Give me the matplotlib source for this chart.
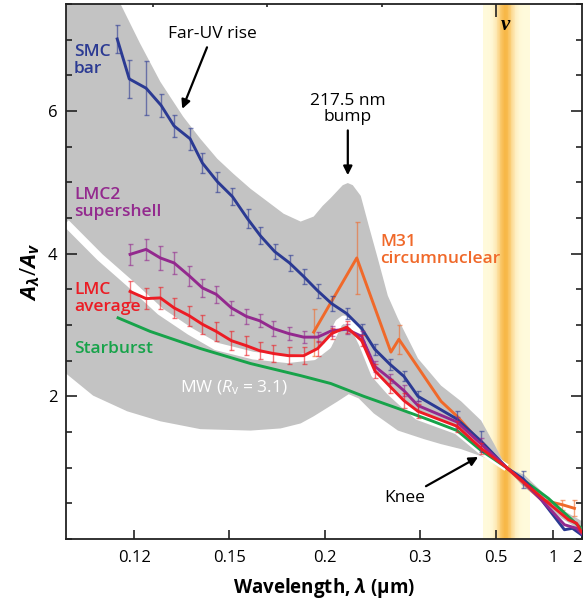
import numpy as np
import matplotlib.pyplot as plt
from matplotlib.colors import to_rgba
from matplotlib.ticker import FixedLocator, FixedFormatter, MultipleLocator, NullFormatter

plt.rcParams['font.family'] = ['Open Sans', 'DejaVu Sans']
plt.rcParams['mathtext.fontset'] = 'custom'
plt.rcParams['mathtext.rm'] = 'Open Sans'
plt.rcParams['mathtext.it'] = 'Open Sans:italic'
plt.rcParams['mathtext.bf'] = 'Open Sans:bold'
plt.rcParams['mathtext.bfit'] = 'Open Sans:italic:bold'

# extinction curves, A_lambda / A_V against wavelength (micron)
smc_wl = [0.1159, 0.1188, 0.1231, 0.1272, 0.1310, 0.1360, 0.1401, 0.1454, 0.1512, 0.1575,
          0.1633, 0.1702, 0.1781, 0.1863, 0.1952, 0.2050, 0.2167, 0.2298, 0.2425, 0.2591,
          0.2767, 0.2969, 0.3726, 0.4419, 0.55, 0.6553, 0.8264, 1.239, 1.50, 1.96]
smc_av = [7.01, 6.45, 6.32, 6.08, 5.79, 5.61, 5.27, 5.01, 4.80, 4.49,
          4.25, 4.03, 3.87, 3.68, 3.48, 3.30, 3.16, 2.95, 2.66, 2.45,
          2.28, 2.00, 1.68, 1.37, 1.00, 0.84, 0.55, 0.13, 0.15, 0.06]
smc_err = [0.20, 0.27, 0.38, 0.16, 0.15, 0.15, 0.14, 0.14, 0.12, 0.13,
           0.12, 0.11, 0.11, 0.11, 0.10, 0.10, 0.08, 0.07, 0.08, 0.08,
           0.07, 0.07, 0.12, 0.15, 0, 0.12, 0, 0, 0, 0]

lmc2_wl = [0.1190, 0.1231, 0.1270, 0.1310, 0.1357, 0.1401, 0.1450, 0.1508, 0.1570, 0.1629,
           0.1696, 0.1776, 0.1863, 0.1952, 0.2050, 0.2167, 0.2298, 0.2425, 0.2591, 0.2767,
           0.2969, 0.3726, 0.4419, 0.55, 0.6553, 0.8264, 1.239, 1.68, 1.96]
lmc2_av = [3.99, 4.06, 3.94, 3.87, 3.69, 3.52, 3.43, 3.24, 3.12, 3.06,
           2.95, 2.88, 2.83, 2.83, 2.92, 2.94, 2.84, 2.42, 2.25, 2.08,
           1.87, 1.64, 1.33, 1.00, 0.80, 0.55, 0.20, 0.15, 0.08]
lmc2_err = [0.15, 0.15, 0.17, 0.15, 0.14, 0.13, 0.12, 0.10, 0.10, 0.09,
            0.10, 0.09, 0.08, 0.07, 0.07, 0.07, 0.07, 0.08, 0.07, 0.08,
            0.07, 0.07, 0.08, 0, 0, 0, 0, 0, 0]

lmc_wl = [0.1190, 0.1231, 0.1270, 0.1310, 0.1357, 0.1401, 0.1450, 0.1508, 0.1570, 0.1629,
          0.1696, 0.1776, 0.1863, 0.1952, 0.2050, 0.2167, 0.2298, 0.2425, 0.2591, 0.2767,
          0.2969, 0.3726, 0.4419, 0.55, 0.8636, 1.357, 1.68, 1.96]
lmc_av = [3.47, 3.37, 3.38, 3.24, 3.13, 3.01, 2.91, 2.78, 2.71, 2.64,
          2.60, 2.57, 2.57, 2.67, 2.88, 2.97, 2.78, 2.36, 2.14, 1.94,
          1.79, 1.58, 1.27, 1.00, 0.55, 0.27, 0.22, 0.10]
lmc_err = [0.15, 0.15, 0.15, 0.14, 0.14, 0.13, 0.13, 0.13, 0.13, 0.12,
           0.12, 0.12, 0.12, 0.10, 0.08, 0.08, 0.08, 0.10, 0.10, 0.10,
           0.10, 0.08, 0.08, 0, 0, 0, 0, 0]

m31_wl = [0.1926, 0.2253, 0.2603, 0.2701, 0.3373, 0.3726, 0.4419, 0.55, 0.8264, 1.188, 1.582]
m31_av = [2.90, 3.94, 2.62, 2.80, 1.93, 1.72, 1.34, 1.00, 0.55, 0.48, 0.43]
m31_err = [0.33, 0.50, 0, 0.20, 0, 0, 0, 0, 0, 0.07, 0.11]

sb_wl = [0.1161, 0.1242, 0.1394, 0.1588, 0.1845, 0.2043, 0.2317, 0.2689, 0.3185, 0.3726,
         0.4419, 0.55, 0.919, 2.0]
sb_av = [3.10, 2.91, 2.67, 2.46, 2.29, 2.18, 2.00, 1.83, 1.66, 1.52,
         1.24, 1.00, 0.57, 0.14]

# Milky Way: range of R_V curves and the R_V = 3.1 mean
mw_hi_wl = [0.1050, 0.1166, 0.1215, 0.1270, 0.1338, 0.1394, 0.1454, 0.1516, 0.1588, 0.1667,
            0.1749, 0.1845, 0.1926, 0.1986, 0.2043, 0.2135, 0.2176, 0.2218, 0.2289, 0.2365,
            0.2457, 0.2567, 0.2689, 0.2969, 0.3373, 0.3826, 0.4419, 0.4914, 0.55, 0.6627,
            0.8264, 1.239, 2.0]
mw_hi_av = [9.0, 7.51, 6.95, 6.41, 5.92, 5.61, 5.33, 5.12, 4.91, 4.73,
            4.56, 4.45, 4.52, 4.67, 4.78, 4.96, 4.99, 4.96, 4.81, 4.39,
            3.93, 3.41, 3.09, 2.53, 2.15, 1.93, 1.66, 1.33, 1.00, 0.90,
            0.67, 0.39, 0.25]
mw_lo_wl = [0.1050, 0.1105, 0.1183, 0.1270, 0.1394, 0.1588, 0.1733, 0.1845, 0.1926, 0.2096,
            0.2184, 0.2271, 0.2415, 0.2689, 0.3065, 0.3373, 0.3826, 0.4419, 0.50, 0.55,
            0.6406, 0.8264, 1.164, 2.0]
mw_lo_av = [2.32, 2.01, 1.79, 1.65, 1.54, 1.52, 1.55, 1.62, 1.72, 1.93,
            2.03, 1.97, 1.76, 1.52, 1.40, 1.33, 1.26, 1.16, 1.08, 1.00,
            0.76, 0.53, 0.29, 0.11]
mw31_wl = [0.1050, 0.1120, 0.1190, 0.1270, 0.1360, 0.1450, 0.1601, 0.1770, 0.1926, 0.2021,
           0.2104, 0.2143, 0.2227, 0.2308, 0.2425, 0.2591, 0.2767, 0.2969, 0.3726, 0.4419, 0.55]
mw31_av = [4.43, 3.95, 3.58, 3.19, 2.91, 2.70, 2.57, 2.52, 2.56, 2.71,
           3.03, 3.08, 2.99, 2.73, 2.31, 2.07, 1.89, 1.72, 1.52, 1.24, 1.00]

# V band marker
vband_lo, vband_hi, vband_mid = 0.449, 0.712, 0.543

xticks = [0.12, 0.15, 0.2, 0.3, 0.5, 1, 2]
xtick_labels = ['0.12', '0.15', '0.2', '0.3', '0.5', '1', '2']

C_SMC = '#2B3A93'
C_LMC2 = '#93298E'
C_LMC = '#EC1C24'
C_M31 = '#F0692A'
C_SB = '#17A34A'
C_GREY = '#C3C3C3'

# x axis runs linearly in inverse wavelength
inv = (lambda w: -1.0 / np.asarray(w, dtype=float),
       lambda s: -1.0 / np.asarray(s, dtype=float))

fig = plt.figure(figsize=(5.83, 6.0), dpi=100)
ax = fig.add_axes([66 / 583, 61 / 600, 516 / 583, 535 / 600])
ax.set_xscale('function', functions=inv)
ax.set_xlim(0.105, 2.0)
ax.set_ylim(0, 7.5)

# shaded V band, pale edges with an orange core
edges = 1.0 / np.linspace(1 / vband_lo, 1 / vband_hi, 61)
pale = np.array([1.0, 0.98, 0.86])
core = np.array([0.97, 0.72, 0.28])
for a, b in zip(edges[:-1], edges[1:]):
    d = 0.5 * (1 / a + 1 / b) - 1 / vband_mid
    t = np.exp(-0.5 * (d / 0.10) ** 2)
    ax.axvspan(a, b, color=pale * (1 - t) + core * t, lw=0, zorder=0)

ax.fill(np.r_[mw_hi_wl, mw_lo_wl[::-1]], np.r_[mw_hi_av, mw_lo_av[::-1]],
        color=C_GREY, lw=0, zorder=1)
ax.plot(mw31_wl, mw31_av, color='white', lw=5.5, solid_capstyle='butt', zorder=2)


def curve(wl, av, err, color, z):
    wl, av = np.asarray(wl), np.asarray(av)
    if err is not None:
        err = np.asarray(err)
        m = err > 0
        ax.errorbar(wl[m], av[m], yerr=err[m], fmt='none', ecolor=to_rgba(color, 0.6),
                    elinewidth=1.0, capsize=1.8, capthick=1.0, zorder=z)
    ax.plot(wl, av, color=color, lw=2.1, zorder=z + 0.5)


curve(m31_wl, m31_av, m31_err, C_M31, 3)
curve(sb_wl, sb_av, None, C_SB, 4)
curve(smc_wl, smc_av, smc_err, C_SMC, 5)
curve(lmc2_wl, lmc2_av, lmc2_err, C_LMC2, 6)
curve(lmc_wl, lmc_av, lmc_err, C_LMC, 7)

# axes styling
for s in ax.spines.values():
    s.set_linewidth(1.3)
    s.set_color('#222222')
ax.xaxis.set_major_locator(FixedLocator(xticks))
ax.xaxis.set_major_formatter(FixedFormatter(xtick_labels))
ax.xaxis.set_minor_locator(FixedLocator([]))
ax.yaxis.set_major_locator(FixedLocator([2, 4, 6]))
ax.yaxis.set_minor_locator(MultipleLocator(0.5))
ax.yaxis.set_minor_formatter(NullFormatter())
ax.tick_params(axis='both', which='both', direction='in', top=False, right=True,
               width=1.2, color='#222222', labelsize=12)
ax.tick_params(axis='x', which='major', length=6.5, pad=8)
ax.tick_params(axis='y', which='major', length=8, pad=6)
ax.tick_params(axis='y', which='minor', length=4.5)
# keep the last wavelength label inside the figure edge
fig.canvas.draw()
ax.get_xticklabels()[-1].set_horizontalalignment('right')

top = ax.twiny()
top.set_xscale('function', functions=inv)
top.set_xlim(ax.get_xlim())
top.xaxis.set_major_locator(FixedLocator([0.5]))
top.xaxis.set_minor_locator(FixedLocator([0.125, 1 / 6, 0.25]))
top.xaxis.set_major_formatter(NullFormatter())
top.tick_params(axis='x', which='both', direction='in', width=1.2, color='#222222')
top.tick_params(axis='x', which='major', length=9)
top.tick_params(axis='x', which='minor', length=2.5)
for s in top.spines.values():
    s.set_visible(False)

ax.set_xlabel(r'Wavelength, $\mathbfit{\lambda}$ (µm)', fontsize=13.5,
              fontweight='bold', labelpad=7)
ax.set_ylabel(r'$\mathbfit{A}_{\mathbfit{\lambda}}/\mathbfit{A}_{\mathbfit{v}}$',
              fontsize=16, labelpad=4)

# curve labels
lab = dict(transform=ax.transAxes, ha='left', va='top', fontsize=12.5,
           fontweight='semibold', linespacing=1.05)
ax.text(0.0155, 0.925, 'SMC\nbar', color=C_SMC, **lab)
ax.text(0.0155, 0.658, 'LMC2\nsupershell', color=C_LMC2, **lab)
ax.text(0.0155, 0.480, 'LMC\naverage', color=C_LMC, **lab)
ax.text(0.0155, 0.370, 'Starburst', color=C_SB, **lab)
ax.text(0.6085, 0.570, 'M31\ncircumnuclear', color=C_M31, **lab)
ax.text(0.221, 0.282, r'MW ($R_{\mathrm{v}}$ = 3.1)', transform=ax.transAxes, ha='left',
        va='center', fontsize=12.5, color='white')
ax.text(0.543, 7.20, 'v', ha='center', va='center', fontsize=15, fontweight='bold',
        fontstyle='italic', family='Liberation Serif', zorder=8)

arrow = dict(arrowstyle='-|>', color='black', lw=1.6, mutation_scale=13,
             shrinkA=2, shrinkB=0)
ax.annotate('Far-UV rise', xy=(0.1335, 6.03), xytext=(0.1436, 7.08), ha='center',
            va='center', fontsize=12.5, arrowprops=arrow, zorder=8)
ax.annotate('217.5 nm\nbump', xy=(0.2176, 5.10), xytext=(0.2176, 6.03), ha='center',
            va='center', fontsize=12.5, linespacing=1.0, arrowprops=arrow, zorder=8)
ax.annotate('Knee', xy=(0.4318, 1.15), xytext=(0.2522, 0.57), ha='left',
            va='center', fontsize=12.5, arrowprops=arrow, zorder=8)

fig.savefig('out.png', dpi=100)
